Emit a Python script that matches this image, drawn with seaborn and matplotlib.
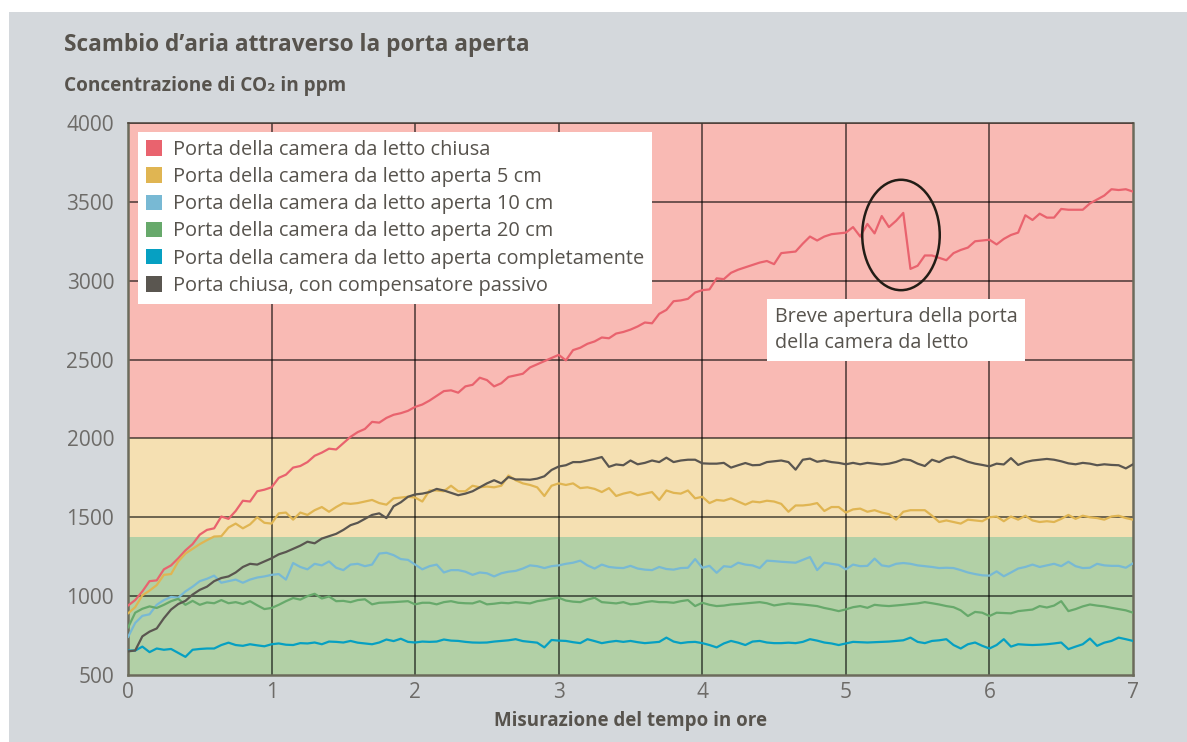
import numpy as np
import pandas as pd
import seaborn as sns
import matplotlib.pyplot as plt
from matplotlib.patches import Patch, Rectangle, Ellipse

# time axis, one reading every 3 minutes (0.05 h)
HOURS = np.round(np.arange(0, 141) * 0.05, 2)

SERIES = [
    "Porta della camera da letto chiusa",
    "Porta della camera da letto aperta 5 cm",
    "Porta della camera da letto aperta 10 cm",
    "Porta della camera da letto aperta 20 cm",
    "Porta della camera da letto aperta completamente",
    "Porta chiusa, con compensatore passivo",
]

closed = [940, 975, 1030, 1095, 1100, 1170, 1195, 1240, 1290, 1330,
          1390, 1420, 1430, 1505, 1490, 1540, 1605, 1600, 1665, 1675,
          1690, 1750, 1770, 1815, 1825, 1850, 1890, 1910, 1935, 1930,
          1970, 2010, 2040, 2060, 2105, 2100, 2130, 2150, 2160, 2175,
          2200, 2215, 2240, 2270, 2300, 2305, 2290, 2330, 2340, 2385,
          2370, 2330, 2350, 2390, 2400, 2410, 2450, 2470, 2490, 2510,
          2530, 2495, 2560, 2575, 2600, 2615, 2640, 2635, 2665, 2675,
          2690, 2710, 2735, 2730, 2790, 2815, 2870, 2875, 2885, 2925,
          2940, 2945, 3015, 3010, 3050, 3070, 3085, 3100, 3115, 3125,
          3105, 3175, 3180, 3185, 3235, 3280, 3255, 3280, 3295, 3300,
          3305, 3340, 3280, 3360, 3300, 3410, 3340, 3380, 3430, 3075,
          3095, 3160, 3160, 3145, 3130, 3175, 3195, 3210, 3250, 3255,
          3260, 3230, 3265, 3290, 3305, 3415, 3385, 3425, 3400, 3400,
          3455, 3450, 3450, 3450, 3490, 3515, 3540, 3580, 3575, 3580,
          3565]

open_5cm = [890, 930, 1005, 1035, 1070, 1135, 1140, 1220, 1270, 1300,
            1330, 1355, 1378, 1380, 1435, 1460, 1430, 1455, 1500, 1465,
            1460, 1525, 1530, 1485, 1530, 1515, 1545, 1565, 1535, 1565,
            1590, 1585, 1590, 1600, 1610, 1590, 1580, 1620, 1625, 1630,
            1625, 1600, 1670, 1670, 1665, 1700, 1665, 1665, 1700, 1690,
            1695, 1690, 1700, 1765, 1735, 1715, 1705, 1690, 1635, 1700,
            1715, 1705, 1715, 1685, 1690, 1680, 1660, 1685, 1635, 1650,
            1660, 1640, 1650, 1660, 1610, 1670, 1655, 1650, 1670, 1620,
            1630, 1590, 1610, 1605, 1620, 1600, 1580, 1600, 1595, 1605,
            1600, 1585, 1535, 1575, 1575, 1580, 1590, 1540, 1565, 1565,
            1530, 1550, 1555, 1535, 1545, 1530, 1520, 1485, 1535, 1545,
            1545, 1545, 1510, 1470, 1480, 1470, 1460, 1485, 1480, 1475,
            1500, 1505, 1475, 1505, 1485, 1510, 1480, 1470, 1475, 1470,
            1490, 1515, 1490, 1510, 1500, 1495, 1485, 1505, 1510, 1495,
            1485]

open_10cm = [740, 830, 875, 885, 945, 975, 995, 990, 1030, 1060,
             1095, 1110, 1130, 1085, 1095, 1105, 1085, 1105, 1118, 1125,
             1135, 1140, 1105, 1210, 1185, 1170, 1205, 1195, 1220, 1180,
             1165, 1200, 1205, 1190, 1200, 1270, 1275, 1260, 1235, 1230,
             1200, 1170, 1190, 1200, 1150, 1165, 1165, 1155, 1135, 1150,
             1145, 1125, 1145, 1155, 1160, 1175, 1195, 1190, 1178, 1190,
             1195, 1205, 1212, 1225, 1195, 1175, 1200, 1185, 1180, 1178,
             1192, 1175, 1168, 1165, 1185, 1172, 1168, 1178, 1180, 1235,
             1180, 1192, 1148, 1190, 1185, 1212, 1200, 1195, 1178, 1225,
             1222, 1218, 1215, 1212, 1230, 1248, 1165, 1212, 1205, 1198,
             1170, 1200, 1190, 1192, 1238, 1195, 1188, 1205, 1210, 1205,
             1195, 1190, 1185, 1178, 1180, 1178, 1165, 1150, 1140, 1132,
             1130, 1157, 1126, 1150, 1175, 1185, 1200, 1185, 1195, 1205,
             1190, 1218, 1190, 1178, 1180, 1205, 1195, 1192, 1192, 1180,
             1208]

open_20cm = [800, 895, 920, 935, 925, 945, 968, 983, 945, 970,
             945, 960, 955, 975, 955, 962, 950, 968, 942, 918,
             925, 945, 968, 988, 978, 1000, 1015, 985, 998, 968,
             970, 962, 975, 980, 948, 958, 960, 962, 965, 968,
             948, 958, 958, 948, 962, 968, 958, 955, 954, 968,
             948, 952, 958, 955, 962, 958, 954, 968, 975, 985,
             990, 972, 965, 962, 978, 990, 962, 958, 954, 962,
             948, 952, 962, 968, 962, 962, 958, 968, 975, 937,
             958, 945, 937, 940, 947, 950, 954, 958, 962, 955,
             941, 948, 954, 950, 947, 942, 937, 925, 916, 905,
             916, 930, 937, 926, 945, 940, 937, 941, 945, 950,
             954, 962, 955, 947, 937, 930, 910, 874, 900, 895,
             874, 895, 893, 891, 905, 910, 915, 937, 928, 940,
             968, 905, 918, 935, 947, 940, 935, 926, 918, 910,
             895]

open_full = [655, 655, 680, 645, 668, 660, 665, 640, 615, 660,
             665, 668, 668, 690, 705, 690, 685, 695, 688, 682,
             695, 700, 692, 690, 702, 700, 706, 695, 712, 710,
             706, 716, 705, 700, 695, 706, 725, 715, 730, 710,
             706, 712, 710, 712, 725, 718, 716, 710, 706, 705,
             706, 712, 716, 720, 727, 715, 710, 705, 675, 722,
             718, 716, 708, 702, 727, 715, 702, 710, 716, 710,
             716, 708, 702, 706, 710, 737, 712, 702, 708, 710,
             702, 690, 675, 700, 716, 705, 690, 712, 716, 706,
             702, 702, 705, 702, 710, 727, 718, 706, 700, 690,
             700, 710, 708, 706, 708, 710, 712, 716, 720, 737,
             710, 702, 716, 720, 727, 690, 668, 695, 706, 685,
             668, 690, 727, 680, 695, 692, 690, 692, 695, 700,
             706, 664, 680, 695, 731, 685, 705, 716, 737, 727,
             716]

passive = [650, 655, 745, 775, 795, 860, 915, 950, 970, 1010,
           1040, 1060, 1095, 1115, 1125, 1150, 1185, 1205, 1200, 1220,
           1240, 1265, 1280, 1300, 1320, 1345, 1335, 1365, 1380, 1395,
           1420, 1450, 1465, 1490, 1515, 1525, 1495, 1570, 1595, 1630,
           1645, 1650, 1660, 1680, 1670, 1655, 1640, 1650, 1665, 1690,
           1715, 1735, 1715, 1755, 1740, 1740, 1738, 1745, 1760, 1800,
           1822, 1830, 1850, 1850, 1860, 1870, 1882, 1820, 1835, 1830,
           1860, 1836, 1845, 1860, 1850, 1878, 1850, 1860, 1865, 1865,
           1842, 1840, 1840, 1845, 1815, 1830, 1844, 1830, 1832, 1850,
           1855, 1860, 1850, 1802, 1865, 1872, 1852, 1860, 1850, 1845,
           1836, 1845, 1836, 1845, 1840, 1835, 1840, 1851, 1868, 1862,
           1840, 1825, 1865, 1850, 1875, 1885, 1870, 1852, 1840, 1832,
           1823, 1840, 1835, 1875, 1832, 1850, 1860, 1865, 1870, 1865,
           1855, 1842, 1836, 1845, 1840, 1830, 1836, 1832, 1830, 1810,
           1836]

# background bands (ppm)
BANDS = [(500, 1375, "#b2d0a6"), (1375, 2000, "#f5e0b2"), (2000, 4000, "#f9bab4")]
COLORS = ["#e9636e", "#e0b552", "#78b9d4", "#67a96b", "#06a0c2", "#5a5650"]

X_TICKS = [0, 1, 2, 3, 4, 5, 6, 7]
Y_TICKS = [500, 1000, 1500, 2000, 2500, 3000, 3500, 4000]

TEXT = "#57534d"
TICK_TEXT = "#6d6b68"

sns.set_style("white")
plt.rcParams["font.family"] = ["Open Sans", "DejaVu Sans"]

df = pd.DataFrame({
    "ore": np.tile(HOURS, len(SERIES)),
    "ppm": np.concatenate([closed, open_5cm, open_10cm, open_20cm, open_full, passive]),
    "serie": np.repeat(SERIES, len(HOURS)),
})

fig = plt.figure(figsize=(11.87, 7.42), dpi=100, facecolor="white")
fig.patches.append(Rectangle((9 / 1187, 0), 1, 730 / 742, transform=fig.transFigure,
                             facecolor="#d4d8dc", edgecolor="none", zorder=-10))
ax = fig.add_axes([128 / 1187, 67 / 742, 1005 / 1187, 552 / 742])

for lo, hi, c in BANDS:
    ax.axhspan(lo, hi, color=c, zorder=0, lw=0)

for y in Y_TICKS[1:]:
    ax.axhline(y, color="black", alpha=0.7, lw=1.1, zorder=1)
for x in X_TICKS[1:-1]:
    ax.axvline(x, color="black", alpha=0.7, lw=1.1, zorder=1)

sns.lineplot(data=df, x="ore", y="ppm", hue="serie", hue_order=SERIES,
             palette=COLORS, linewidth=1.6, legend=False, ax=ax, zorder=3)

ax.set_xlim(0, 7)
ax.set_ylim(500, 4000)
ax.set_xticks(X_TICKS)
ax.set_yticks(Y_TICKS)
ax.tick_params(axis="both", length=0, labelsize=15, labelcolor=TICK_TEXT)
ax.tick_params(axis="y", pad=10)
ax.tick_params(axis="x", pad=5)
ax.set_xlabel("Misurazione del tempo in ore", fontsize=13.5, fontweight="bold",
              color=TEXT, labelpad=6)
ax.set_ylabel("")
for side in ["left", "bottom", "right"]:
    ax.spines[side].set_color("#6c6b5c")
    ax.spines[side].set_linewidth(1.8)
ax.spines["top"].set_color("#4a4038")
ax.spines["top"].set_linewidth(1.1)

handles = [Patch(facecolor=c, edgecolor="none") for c in COLORS]
leg = ax.legend(handles, SERIES, loc="upper left", bbox_to_anchor=(0.01, 0.984),
                fontsize=14.4, frameon=True, fancybox=False, handlelength=0.8,
                handleheight=0.8, handletextpad=0.55, labelspacing=0.36,
                borderpad=0.4, borderaxespad=0)
leg.get_frame().set_facecolor("white")
leg.get_frame().set_edgecolor("none")
leg.get_frame().set_alpha(1)
leg.set_zorder(5)
for t in leg.get_texts():
    t.set_color(TEXT)

ax.add_patch(Ellipse((5.384, 3290), 0.54, 700, fill=False, edgecolor="#221d16",
                     lw=1.8, zorder=4))
ax.text(4.505, 2835, "Breve apertura della porta\ndella camera da letto", fontsize=14.2,
        color=TEXT, va="top", ha="left", linespacing=1.4, zorder=5,
        bbox=dict(boxstyle="square,pad=0.4", facecolor="white", edgecolor="none"))

fig.text(64 / 1187, 1 - 45 / 742, "Scambio d’aria attraverso la porta aperta",
         fontsize=16.3, fontweight="bold", color=TEXT, va="center", ha="left")
fig.text(64 / 1187, 1 - 86 / 742, "Concentrazione di CO₂ in ppm",
         fontsize=13.7, fontweight="bold", color=TEXT, va="center", ha="left")

fig.savefig("out.png", dpi=100, facecolor=fig.get_facecolor())
